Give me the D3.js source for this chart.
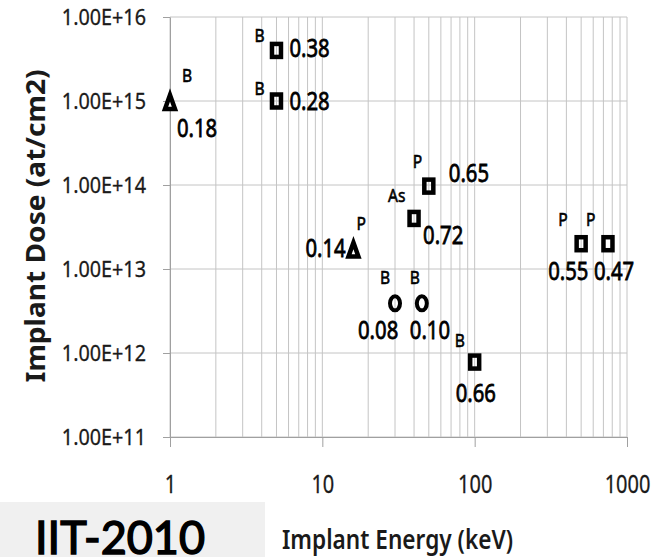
<!DOCTYPE html>
<html>
<head>
<meta charset="utf-8">
<script src="https://cdn.jsdelivr.net/npm/d3@7"></script>
<style>
  html, body { margin: 0; padding: 0; background: #fff; }
  svg { display: block; font-family: "Noto Sans", "Open Sans", sans-serif; }
</style>
</head>
<body>
<svg id="chart"></svg>
<script>
// Window size
const width = 656, height = 557;

// Data
const energy  = [1, 5, 5, 16, 40, 50, 500, 750, 30, 45, 100];                 // keV
const dose    = [1e15, 4e15, 1e15, 1.75e13, 4e13, 9.7e13, 2e13, 2e13, 3.9e12, 3.9e12, 7.8e11];
const species = ['B', 'B', 'B', 'P', 'As', 'P', 'P', 'P', 'B', 'B', 'B'];
const values  = ['0.18', '0.38', '0.28', '0.14', '0.72', '0.65', '0.55', '0.47', '0.08', '0.10', '0.66'];
const shapes  = ['triangle', 'square', 'square', 'triangle', 'square', 'square', 'square', 'square', 'circle', 'circle', 'square'];

const xTicks = [1, 10, 100, 1000];
const yTicks = [1e11, 1e12, 1e13, 1e14, 1e15, 1e16];

// label placement relative to each marker (dx, dy to the baseline start)
const speciesOffset = [[12, -19], [-22, -8], [-22, -6], [3, -19], [-26, -16], [-16, -18],
                       [-23, -18], [-22, -18], [-15, -19], [-12, -19], [-20, -15]];
const valueOffset   = [[7, 36], [13, 7], [13, 9], [-48, 8], [9, 26], [20, -4],
                       [-33, 36], [-14, 36], [-37, 36], [-12, 36], [-19, 40]];

const points = energy.map((e, i) => ({
  energy: e, dose: dose[i], species: species[i], value: values[i], shape: shapes[i],
  so: speciesOffset[i], vo: valueOffset[i]
}));

const svg = d3.select('#chart').attr('width', width).attr('height', height);

// plot frame
const plotLeft = 170, plotRight = 627, plotTop = 17, plotBottom = 437;

const x = d3.scaleLog().domain([1, 1000]).range([plotLeft, plotRight]);
const y = d3.scaleLog().domain([1e11, 1e16]).range([plotBottom, plotTop]);

const gridColor = '#c4c4c4';

// vertical grid, with the log minor lines
svg.append('g')
  .selectAll('line')
  .data(x.ticks())
  .enter()
  .append('line')
  .attr('x1', d => x(d)).attr('x2', d => x(d))
  .attr('y1', plotTop).attr('y2', plotBottom)
  .attr('stroke', gridColor)
  .attr('stroke-width', 1);

// horizontal grid, decades only
svg.append('g')
  .selectAll('line')
  .data(yTicks)
  .enter()
  .append('line')
  .attr('x1', plotLeft).attr('x2', plotRight)
  .attr('y1', d => y(d)).attr('y2', d => y(d))
  .attr('stroke', gridColor)
  .attr('stroke-width', 1);

// left axis
const yAxis = svg.append('g')
  .attr('transform', `translate(${plotLeft},0)`)
  .call(d3.axisLeft(y)
    .tickValues(yTicks)
    .tickSize(7)
    .tickSizeOuter(0)
    .tickFormat(d => d3.format('.2e')(d).toUpperCase()));

yAxis.select('.domain').attr('stroke', '#a0a0a0');
yAxis.selectAll('.tick line').attr('stroke', '#a0a0a0');
yAxis.selectAll('.tick text')
  .attr('x', -24 / 0.9)
  .attr('dy', '0.35em')
  .attr('transform', 'scale(0.9,1)')
  .attr('font-size', 22)
  .attr('font-family', '"Noto Sans", sans-serif')
  .attr('fill', '#1a1a1a')
  .attr('stroke', '#1a1a1a')
  .attr('stroke-width', 0.3);

// bottom axis
const xAxis = svg.append('g')
  .attr('transform', `translate(0,${plotBottom})`)
  .call(d3.axisBottom(x)
    .tickValues(xTicks)
    .tickSize(10)
    .tickSizeOuter(0)
    .tickFormat(d3.format('d')));

xAxis.select('.domain').attr('stroke', '#a0a0a0');
xAxis.selectAll('.tick line').attr('stroke', '#a0a0a0');
xAxis.selectAll('.tick text')
  .attr('x', 0)
  .attr('y', 56)
  .attr('dy', 0)
  .attr('transform', 'scale(0.8,1)')
  .attr('font-size', 25)
  .attr('font-family', '"Noto Sans", sans-serif')
  .attr('fill', '#1a1a1a')
  .attr('stroke', '#1a1a1a')
  .attr('stroke-width', 0.3);

// markers
const marks = svg.append('g')
  .selectAll('g')
  .data(points)
  .enter()
  .append('g')
  .attr('transform', d => `translate(${x(d.energy)},${y(d.dose)})`);

marks.filter(d => d.shape === 'square')
  .append('rect')
  .attr('x', -4.5).attr('y', -6.5)
  .attr('width', 9).attr('height', 13)
  .attr('fill', 'none')
  .attr('stroke', '#000')
  .attr('stroke-width', 4.5);

marks.filter(d => d.shape === 'circle')
  .append('ellipse')
  .attr('rx', 5).attr('ry', 7)
  .attr('fill', 'none')
  .attr('stroke', '#000')
  .attr('stroke-width', 4);

marks.filter(d => d.shape === 'triangle')
  .append('path')
  .attr('d', 'M0,-6 L5,8 L-5,8 Z')
  .attr('fill', '#fff')
  .attr('stroke', '#000')
  .attr('stroke-width', 4.5)
  .attr('stroke-linejoin', 'miter');

// species labels (B, P, As)
marks.append('text')
  .attr('transform', d => `translate(${d.so[0]},${d.so[1]}) scale(0.82,1)`)
  .attr('font-size', 19)
  .attr('fill', '#000')
  .attr('stroke', '#000')
  .attr('stroke-width', 0.6)
  .text(d => d.species);

// value labels
marks.append('text')
  .attr('transform', d => `translate(${d.vo[0]},${d.vo[1]}) scale(0.78,1)`)
  .attr('font-size', 26)
  .attr('fill', '#000')
  .attr('stroke', '#000')
  .attr('stroke-width', 0.8)
  .text(d => d.value);

// axis titles
svg.append('text')
  .attr('transform', 'translate(45,226) rotate(-90)')
  .attr('text-anchor', 'middle')
  .attr('font-size', 27)
  .attr('font-weight', 'bold')
  .attr('textLength', 313)
  .attr('lengthAdjust', 'spacingAndGlyphs')
  .attr('fill', '#1a1a1a')
  .text('Implant Dose (at/cm2)');

svg.append('text')
  .attr('x', 282)
  .attr('y', 549)
  .attr('font-size', 27)
  .attr('font-weight', 600)
  .attr('textLength', 231)
  .attr('lengthAdjust', 'spacingAndGlyphs')
  .attr('fill', '#1a1a1a')
  .text('Implant Energy (keV)');

// IIT-2010 tag in the corner
svg.append('rect')
  .attr('x', 0).attr('y', 502)
  .attr('width', 265).attr('height', height - 502)
  .attr('fill', '#f0f0f0');

svg.append('text')
  .attr('x', 35)
  .attr('y', 554)
  .attr('font-size', 46)
  .attr('font-family', 'Lato, "Noto Sans", sans-serif')
  .attr('textLength', 170)
  .attr('lengthAdjust', 'spacingAndGlyphs')
  .attr('fill', '#000')
  .attr('stroke', '#000')
  .attr('stroke-width', 1.5)
  .text('IIT-2010');
</script>
</body>
</html>
